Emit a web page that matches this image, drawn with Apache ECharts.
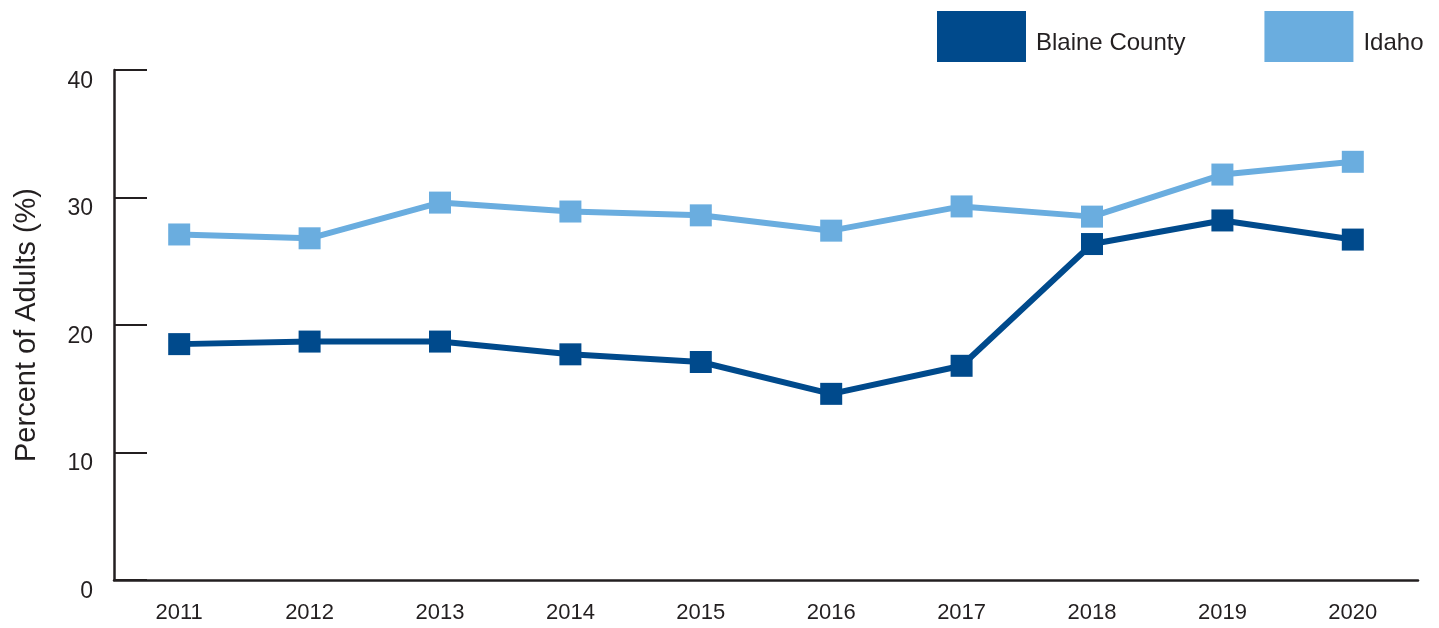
<!DOCTYPE html>
<html>
<head>
<meta charset="utf-8">
<script src="https://cdn.jsdelivr.net/npm/echarts@6/dist/echarts.min.js"></script>
<style>
  html, body { margin: 0; padding: 0; background: #fff; }
  #main { width: 1439px; height: 628px; }
</style>
</head>
<body>
<div id="main"></div>
<script>
  const years = ['2011', '2012', '2013', '2014', '2015', '2016', '2017', '2018', '2019', '2020'];
  const blaine = [18.5, 18.7, 18.7, 17.7, 17.1, 14.6, 16.8, 26.35, 28.2, 26.7];
  const idaho = [27.1, 26.8, 29.6, 28.9, 28.6, 27.4, 29.3, 28.5, 31.8, 32.8];

  const dark = '#004A8C';
  const light = '#6AADDF';
  const axisColor = '#231F20';
  const font = 'Liberation Sans, Arial, sans-serif';

  const chart = echarts.init(document.getElementById('main'));

  function lineSeries(name, data, color) {
    return {
      name: name,
      type: 'line',
      data: data,
      symbol: 'rect',
      symbolSize: 22,
      lineStyle: { color: color, width: 6 },
      itemStyle: { color: color },
      emphasis: { disabled: true },
      z: name === 'Idaho' ? 2 : 3
    };
  }

  const option = {
    animation: false,
    backgroundColor: '#fff',
    textStyle: { fontFamily: font },
    grid: { left: 114, right: 21, top: 70, bottom: 48 },
    legend: {
      left: 937,
      top: 11,
      padding: 0,
      icon: 'rect',
      itemWidth: 89,
      itemHeight: 51,
      itemGap: 79,
      selectedMode: false,
      formatter: '{t|{name}}',
      textStyle: {
        fontSize: 24,
        color: '#231F20',
        fontFamily: font,
        rich: {
          t: { fontSize: 24, color: '#231F20', fontFamily: font, padding: [14, 0, 0, 5] }
        }
      },
      data: ['Blaine County', 'Idaho']
    },
    xAxis: {
      type: 'category',
      data: years,
      boundaryGap: true,
      axisLine: { lineStyle: { color: axisColor, width: 2.5 } },
      axisTick: { inside: true, length: 12, alignWithLabel: true, lineStyle: { color: axisColor, width: 2 } },
      axisLabel: { color: '#231F20', fontSize: 22, margin: 22, fontFamily: font }
    },
    yAxis: {
      type: 'value',
      min: 0,
      max: 40,
      interval: 10,
      name: 'Percent of Adults (%)',
      nameLocation: 'middle',
      nameGap: 73,
      nameRotate: 90,
      nameTextStyle: { fontSize: 29, color: '#231F20', fontFamily: font },
      axisLine: { show: true, lineStyle: { color: axisColor, width: 2.5 } },
      axisTick: { show: true, inside: true, length: 33, lineStyle: { color: axisColor, width: 2 } },
      splitLine: { show: false },
      axisLabel: {
        color: '#231F20',
        fontSize: 23,
        margin: 21,
        verticalAlign: 'top',
        fontFamily: font
      }
    },
    series: [
      lineSeries('Blaine County', blaine, dark),
      lineSeries('Idaho', idaho, light)
    ]
  };

  chart.setOption(option);
  window.addEventListener('resize', () => chart.resize());
</script>
</body>
</html>
